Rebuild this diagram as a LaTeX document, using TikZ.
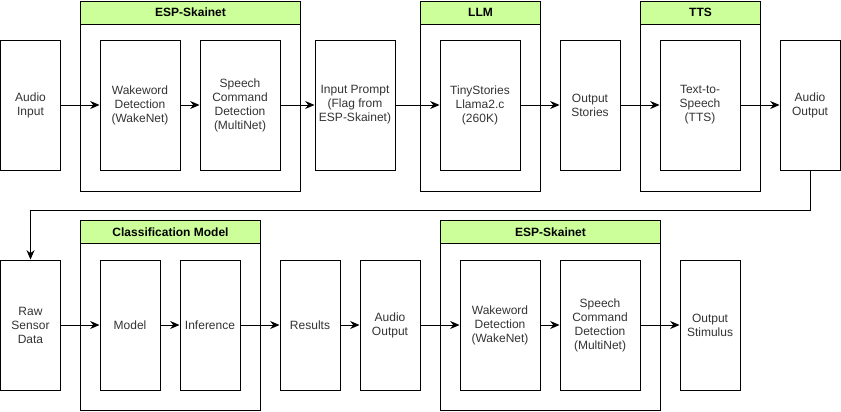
\documentclass[tikz,border=0pt]{standalone}
\usepackage{fontspec}
\setmainfont{Liberation Sans}
\usepackage{tikz}
\usetikzlibrary{arrows.meta}
\definecolor{headgreen}{HTML}{CCFF99}
\definecolor{txtgrey}{HTML}{333333}
\tikzstyle{blk} = [draw, line width=0.75pt, minimum height=97.5pt, align=center, inner sep=1pt, text=txtgrey, font=\fontsize{9}{10.5}\selectfont]
\tikzstyle{wide} = [blk, minimum width=60pt]
\tikzstyle{narrow} = [blk, minimum width=45pt]
\tikzstyle{group} = [draw, line width=0.75pt, anchor=north west, minimum height=142.5pt]
\tikzstyle{head} = [draw, line width=0.75pt, fill=headgreen, anchor=north west, minimum height=17.25pt, font=\fontsize{9}{10.5}\selectfont\bfseries]
\tikzstyle{flow} = [line width=0.75pt, -{Stealth[length=7pt,width=6pt]}]

\begin{document}
\begin{tikzpicture}[x=0.75pt,y=-0.75pt]
			\useasboundingbox (0,0) rectangle (841,411);
			% top row
			\node[group, minimum width=165pt] (gesp1) at (80,0.5) {};
			\node[head, minimum width=165pt] at (80,0.5) {ESP-Skainet};
			\node[group, minimum width=90pt] (gllm) at (420,0.5) {};
			\node[head, minimum width=90pt] at (420,0.5) {LLM};
			\node[group, minimum width=90pt] (gtts) at (640,0.5) {};
			\node[head, minimum width=90pt] at (640,0.5) {TTS};
			\node[narrow] (ain) at (30.5,105) {Audio\\Input};
			\node[wide] (wake1) at (140,105) {Wakeword\\Detection\\(WakeNet)};
			\node[wide] (cmd1) at (240,105) {Speech\\Command\\Detection\\(MultiNet)};
			\node[wide] (prompt) at (355,105) {Input Prompt\\(Flag from\\ESP-Skainet)};
			\node[wide] (llm) at (480,105) {TinyStories\\Llama2.c\\(260K)};
			\node[narrow] (stories) at (590,105) {Output\\Stories};
			\node[wide] (tts) at (700,105) {Text-to-\\Speech\\(TTS)};
			\node[narrow] (aout1) at (810,105) {Audio\\Output};
			\draw[flow] (ain) -- (wake1);
			\draw[flow] (wake1) -- (cmd1);
			\draw[flow] (cmd1) -- (prompt);
			\draw[flow] (prompt) -- (llm);
			\draw[flow] (llm) -- (stories);
			\draw[flow] (stories) -- (tts);
			\draw[flow] (tts) -- (aout1);
			% bottom row
			\node[group, minimum width=135pt] (gcls) at (80,220) {};
			\node[head, minimum width=135pt] at (80,220) {Classification Model};
			\node[group, minimum width=165pt] (gesp2) at (440,220) {};
			\node[head, minimum width=165pt] at (440,220) {ESP-Skainet};
			\node[narrow] (raw) at (30.5,325) {Raw\\Sensor\\Data};
			\node[narrow] (model) at (130,325) {Model};
			\node[narrow] (infer) at (210,325) {Inference};
			\node[narrow] (res) at (310,325) {Results};
			\node[narrow] (aout2) at (390,325) {Audio\\Output};
			\node[wide] (wake2) at (500,325) {Wakeword\\Detection\\(WakeNet)};
			\node[wide] (cmd2) at (600,325) {Speech\\Command\\Detection\\(MultiNet)};
			\node[narrow] (stim) at (710,325) {Output\\Stimulus};
			\coordinate (fb) at (30.5,210);
			\draw[flow] (aout1.south) |- (fb) -- (raw.north);
			\draw[flow] (raw) -- (model);
			\draw[flow] (model) -- (infer);
			\draw[flow] (infer) -- (res);
			\draw[flow] (res) -- (aout2);
			\draw[flow] (aout2) -- (wake2);
			\draw[flow] (wake2) -- (cmd2);
			\draw[flow] (cmd2) -- (stim);
		\end{tikzpicture}
\end{document}
